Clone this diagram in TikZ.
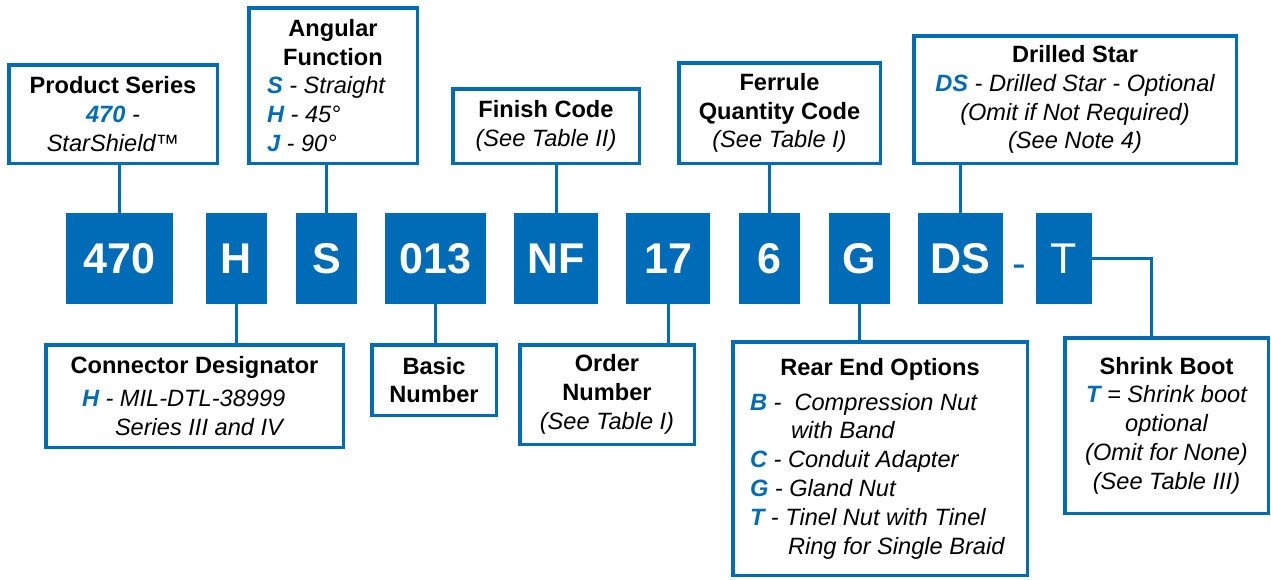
\documentclass[tikz,border=0pt]{standalone}
\usepackage{fontspec}
\setmainfont{Liberation Sans}
\usetikzlibrary{positioning}
\definecolor{blu}{RGB}{0,108,183}
\newcommand{\cd}[1]{\textcolor{blu}{\bfseries\itshape #1}}
\newcommand{\hd}[1]{{\upshape\bfseries #1}}
\tikzset{
    code/.style={fill=blu, text=white, font=\fontsize{43}{43}\selectfont\bfseries,
        minimum height=91pt, inner sep=0pt},
    info/.style={draw=blu, line width=3.5pt, fill=white, align=center, inner sep=0pt,
        font=\fontsize{23.6}{28.8}\selectfont\itshape},
    link/.style={draw=blu, line width=3pt}
}

\begin{document}
\begin{tikzpicture}[x=1pt, y=-1pt]
    \useasboundingbox (0, 0) rectangle (1271, 579);
    % code boxes
    \node[code, minimum width=107pt] (c470) at (119.5, 258.5) {470};
    \node[code, minimum width=61pt] (cH) at (236.5, 258.5) {H};
    \node[code, minimum width=61pt] (cS) at (326.5, 258.5) {S};
    \node[code, minimum width=101pt] (c013) at (435.5, 258.5) {013};
    \node[code, minimum width=84pt] (cNF) at (556, 258.5) {NF};
    \node[code, minimum width=84pt] (c17) at (668, 258.5) {17};
    \node[code, minimum width=61pt] (c6) at (769.5, 258.5) {6};
    \node[code, minimum width=61pt] (cG) at (859.5, 258.5) {G};
    \node[code, minimum width=85pt] (cDS) at (960.5, 258.5) {DS};
    \node[text=blu, font=\fontsize{41}{41}\selectfont, inner sep=0pt, anchor=base] (dash) at (1019, 277) {-};
    \node[code, minimum width=56pt, font=\fontsize{43}{43}\selectfont] (cT) at (1064, 258.5) {T};
    % upper boxes
    \node[info, minimum width=208.5pt, minimum height=98.5pt] (series) at (113, 114)
        {\hd{Product Series}\\ \cd{470} -\\ StarShield™};
    \node[info, minimum width=168.5pt, minimum height=155.5pt] (angular) at (333, 85.5)
        {\hd{Angular}\\ \hd{Function}\\
         \makebox[132pt][l]{\cd{S} - Straight}\\
         \makebox[132pt][l]{\cd{H} - 45°}\\
         \makebox[132pt][l]{\cd{J} - 90°}};
    \node[info, minimum width=186.5pt, minimum height=74.5pt] (finish) at (546, 126)
        {\hd{Finish Code}\\ (See Table II)};
    \node[info, minimum width=201.5pt, minimum height=100.5pt] (ferrule) at (779.5, 113)
        {\hd{Ferrule}\\ \hd{Quantity Code}\\ (See Table I)};
    \node[info, minimum width=322.5pt, minimum height=127.5pt] (drilled) at (1075, 99.5)
        {\hd{Drilled Star}\\ \cd{DS} - Drilled Star - Optional\\ (Omit if Not Required)\\ (See Note 4)};
    % lower boxes
    \node[info, minimum width=297.5pt, minimum height=102.5pt] (designator) at (194.5, 396)
        {\hd{Connector Designator}\\[5pt]
         \makebox[225pt][l]{\cd{H} - MIL-DTL-38999}\\
         \makebox[225pt][l]{\hspace*{33pt}Series III and IV}};
    \node[info, minimum width=124.5pt, minimum height=70.5pt] (basic) at (434, 380)
        {\hd{Basic}\\ \hd{Number}};
    \node[info, minimum width=174.5pt, minimum height=99.5pt] (order) at (607, 394.5)
        {\hd{Order}\\ \hd{Number}\\ (See Table I)};
    \node[info, minimum width=294.5pt, minimum height=233.5pt] (rear) at (880, 458.5)
        {\hd{Rear End Options}\\[6pt]
         \makebox[260pt][l]{\cd{B} -\ \ Compression Nut}\\
         \makebox[260pt][l]{\hspace*{41pt}with Band}\\
         \makebox[260pt][l]{\cd{C} - Conduit Adapter}\\
         \makebox[260pt][l]{\cd{G} - Gland Nut}\\
         \makebox[260pt][l]{\cd{T} - Tinel Nut with Tinel}\\
         \makebox[260pt][l]{\hspace*{38pt}Ring for Single Braid}};
    \node[info, minimum width=203.5pt, minimum height=175.5pt] (boot) at (1166.5, 425.5)
        {\hd{Shrink Boot}\\ \cd{T} = Shrink boot\\ optional\\ (Omit for None)\\ (See Table III)};
    % connectors
    \draw[link] (c470.north) -- (c470.north |- series.south);
    \draw[link] (cS.north) -- (cS.north |- angular.south);
    \draw[link] (cNF.north) -- (cNF.north |- finish.south);
    \draw[link] (c6.north) -- (c6.north |- ferrule.south);
    \draw[link] (cDS.north) -- (cDS.north |- drilled.south);
    \draw[link] (cH.south) -- (cH.south |- designator.north);
    \draw[link] (c013.south) -- (c013.south |- basic.north);
    \draw[link] (c17.south) -- (c17.south |- order.north);
    \draw[link] (cG.south) -- (cG.south |- rear.north);
    \draw[link] (cT.east) -| ([xshift=-15pt]boot.north);
\end{tikzpicture}
\end{document}
